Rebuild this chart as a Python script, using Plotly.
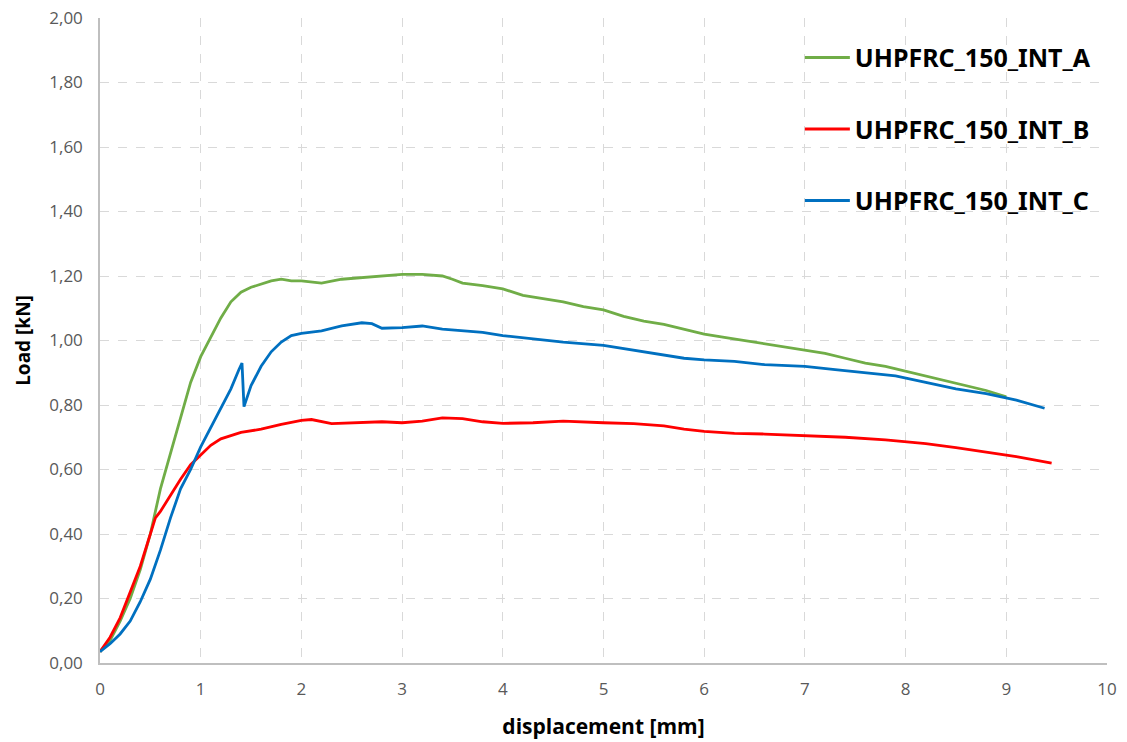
import plotly.graph_objects as go

names = ["UHPFRC_150_INT_A", "UHPFRC_150_INT_B", "UHPFRC_150_INT_C"]

x_a = [0, 0.1, 0.2, 0.3, 0.4, 0.5, 0.6, 0.7, 0.8, 0.9, 1.0, 1.1, 1.2, 1.3, 1.4, 1.5, 1.6, 1.7, 1.8, 1.9,
       2.0, 2.2, 2.4, 2.6, 2.8, 3.0, 3.2, 3.4, 3.5, 3.6, 3.8, 4.0, 4.2, 4.4, 4.6, 4.8, 5.0, 5.2, 5.4,
       5.6, 5.8, 6.0, 6.2, 6.4, 6.6, 6.8, 7.0, 7.2, 7.4, 7.6, 7.8, 8.0, 8.2, 8.4, 8.6, 8.8, 9.0]
y_a = [0.035, 0.07, 0.13, 0.20, 0.29, 0.40, 0.54, 0.65, 0.76, 0.87, 0.95, 1.01, 1.07, 1.12, 1.15, 1.165,
       1.175, 1.185, 1.19, 1.185, 1.185, 1.178, 1.19, 1.195, 1.198, 1.205, 1.205, 1.2, 1.19, 1.178, 1.17,
       1.16, 1.14, 1.13, 1.12, 1.105, 1.095, 1.075, 1.06, 1.05, 1.035, 1.02, 1.01, 1.0, 0.99, 0.98, 0.97,
       0.96, 0.945, 0.93, 0.92, 0.905, 0.89, 0.875, 0.86, 0.845, 0.825]

x_b = [0, 0.1, 0.2, 0.3, 0.4, 0.5, 0.55, 0.6, 0.7, 0.8, 0.9, 1.0, 1.1, 1.2, 1.3, 1.4, 1.6, 1.8, 2.0, 2.1,
       2.3, 2.5, 2.8, 3.0, 3.2, 3.4, 3.6, 3.8, 4.0, 4.3, 4.6, 5.0, 5.3, 5.6, 5.8, 6.0, 6.3, 6.6, 7.0, 7.4,
       7.8, 8.2, 8.5, 8.8, 9.1, 9.45]
y_b = [0.035, 0.08, 0.14, 0.22, 0.30, 0.40, 0.45, 0.47, 0.52, 0.57, 0.615, 0.645, 0.675, 0.695, 0.705,
       0.715, 0.725, 0.74, 0.752, 0.755, 0.742, 0.745, 0.748, 0.745, 0.75, 0.76, 0.758, 0.748, 0.743,
       0.745, 0.75, 0.745, 0.742, 0.735, 0.725, 0.718, 0.712, 0.71, 0.705, 0.70, 0.692, 0.68, 0.668,
       0.655, 0.64, 0.62]

x_c = [0, 0.1, 0.2, 0.3, 0.4, 0.5, 0.6, 0.7, 0.8, 0.9, 1.0, 1.1, 1.2, 1.3, 1.38, 1.41, 1.43, 1.5, 1.6,
       1.7, 1.8, 1.9, 2.0, 2.2, 2.4, 2.6, 2.7, 2.8, 3.0, 3.2, 3.4, 3.6, 3.8, 4.0, 4.3, 4.6, 5.0, 5.3, 5.6,
       5.8, 6.0, 6.3, 6.6, 7.0, 7.3, 7.6, 7.9, 8.2, 8.5, 8.8, 9.1, 9.38]
y_c = [0.035, 0.06, 0.09, 0.13, 0.19, 0.26, 0.35, 0.45, 0.54, 0.60, 0.67, 0.73, 0.79, 0.85, 0.91, 0.93,
       0.795, 0.86, 0.92, 0.965, 0.995, 1.015, 1.022, 1.03, 1.045, 1.055, 1.052, 1.038, 1.04, 1.045,
       1.035, 1.03, 1.025, 1.015, 1.005, 0.995, 0.985, 0.97, 0.955, 0.945, 0.94, 0.935, 0.925, 0.92,
       0.91, 0.90, 0.89, 0.87, 0.85, 0.835, 0.815, 0.79]

colors = ["#70AD47", "#FF0000", "#0070C0"]

fig = go.Figure()
for i, (xs, ys) in enumerate([(x_a, y_a), (x_b, y_b), (x_c, y_c)]):
    fig.add_trace(go.Scatter(x=xs, y=ys, mode="lines", name=names[i], legendgroup=names[i],
                             line=dict(color=colors[i], width=2.8)))

fig.update_layout(
    width=1127, height=742,
    margin=dict(l=100, r=20, t=18, b=79),
    paper_bgcolor="white", plot_bgcolor="white",
    separators=",.",
    font=dict(family="Open Sans", color="#595959"),
    showlegend=True,
    legend=dict(x=0.695, y=0.974, xanchor="left", yanchor="top", traceorder="grouped",
                tracegroupgap=36, itemwidth=45, bgcolor="rgba(255,255,255,0)",
                font=dict(family="Noto Sans", size=25, color="black", weight="bold")),
    xaxis=dict(range=[0, 10], dtick=1, showgrid=True, gridcolor="#D9D9D9", griddash="dash",
               showline=True, linecolor="#BFBFBF", linewidth=1.5, zeroline=False, automargin=False,
               tickfont=dict(size=17, color="#595959"), ticks="", ticklabelstandoff=10,
               title=dict(text="<b>displacement [mm]</b>", font=dict(size=21, color="black"), standoff=20)),
    yaxis=dict(range=[0, 2.0], dtick=0.2, tickformat=".2f", showgrid=True, gridcolor="#D9D9D9",
               griddash="dash", showline=True, linecolor="#BFBFBF", linewidth=1.5, zeroline=False,
               automargin=False,
               tickfont=dict(size=17, color="#595959"), ticks="", ticklabelstandoff=12,
               title=dict(text="<b>Load [kN]</b>", font=dict(size=19, color="black"), standoff=14)),
)

fig.write_html("out.html")
